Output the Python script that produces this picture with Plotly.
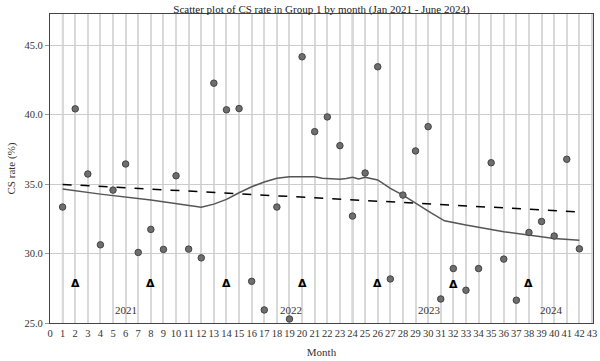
import plotly.graph_objects as go

# ---- data ----
months = list(range(1, 43))
cs_rate = [33.35, 40.42, 35.73, 30.63, 34.57, 36.45, 30.08, 31.74, 30.30, 35.60,
           30.32, 29.69, 42.27, 40.35, 40.44, 28.00, 25.94, 33.35, 25.29, 44.17,
           38.78, 39.84, 37.77, 32.70, 35.80, 43.45, 28.17, 34.21, 37.39, 39.14,
           26.73, 28.92, 27.36, 28.92, 36.54, 29.60, 26.64, 31.52, 32.31, 31.26,
           36.79, 30.34]

smooth_months = [1, 4, 8, 12, 13, 14, 15, 16, 17, 18, 19, 21, 21.6, 23, 23.5, 24,
                 24.5, 25, 26, 27, 28, 29, 30.2, 31.3, 33, 36, 38, 40, 42]
smooth_values = [34.65, 34.28, 33.85, 33.33, 33.56, 33.90, 34.38, 34.81, 35.15,
                 35.42, 35.53, 35.53, 35.42, 35.35, 35.40, 35.49, 35.37, 35.49,
                 35.30, 34.70, 34.21, 33.61, 32.94, 32.36, 32.05, 31.57, 31.33,
                 31.09, 30.95]

trend_months = [1, 42]
trend_values = [34.98, 33.00]

triangle_months = [2, 8, 14, 20, 26, 32, 38]
triangle_values = [27.84, 27.84, 27.84, 27.84, 27.84, 27.74, 27.84]

year_labels = ["2021", "2022", "2023", "2024"]
year_months = [6.0, 19.1, 30.1, 39.8]
year_values = [25.95, 25.95, 25.95, 25.95]

divider_months = [1, 12, 24, 36]
x_ticks = list(range(0, 44))
y_ticks = [25, 30, 35, 40, 45]

SERIF = "Liberation Serif, Times New Roman, serif"

fig = go.Figure()

fig.add_trace(go.Scatter(
    x=trend_months, y=trend_values, mode="lines",
    line=dict(color="black", width=1.5, dash="dash"),
    showlegend=False, hoverinfo="skip"))

fig.add_trace(go.Scatter(
    x=smooth_months, y=smooth_values, mode="lines",
    line=dict(color="#555555", width=1.5),
    showlegend=False, hoverinfo="skip"))

fig.add_trace(go.Scatter(
    x=months, y=cs_rate, mode="markers",
    marker=dict(size=6.5, color="#6e6e6e", line=dict(color="#444444", width=1)),
    showlegend=False))

for m in divider_months:
    fig.add_shape(type="line", xref="x", yref="paper", x0=m, x1=m, y0=0, y1=1,
                  line=dict(color="#3a3a3a", width=1.3), layer="below")

for m, v in zip(triangle_months, triangle_values):
    fig.add_annotation(x=m, y=v, text="<b>Δ</b>", showarrow=False,
                       font=dict(family="DejaVu Sans", size=11, color="black"))

for t, m, v in zip(year_labels, year_months, year_values):
    fig.add_annotation(x=m, y=v, text=t, showarrow=False,
                       font=dict(family=SERIF, size=11, color="#333333"))

fig.update_layout(
    width=600, height=361,
    margin=dict(l=50, r=3, t=14, b=38),
    paper_bgcolor="white", plot_bgcolor="white",
    title=dict(text="Scatter plot of CS rate in Group 1 by month (Jan 2021 - June 2024)",
               x=0.5, xref="paper", xanchor="center", y=0.985, yanchor="top",
               font=dict(family=SERIF, size=11, color="#222222")),
    font=dict(family=SERIF, size=10.5, color="#333333"),
    xaxis=dict(range=[0, 43.08], tickmode="array", tickvals=x_ticks,
               ticktext=[str(v) for v in x_ticks], tickangle=0,
               ticklabeloverflow="allow",
               showgrid=True, gridcolor="#d9d9d9", gridwidth=1.6,
               zeroline=False, showline=True, linecolor="#444444", linewidth=1.3,
               mirror=True, ticks="", tickfont=dict(family=SERIF, size=10.5, color="#333333"),
               title=dict(text="Month", font=dict(family=SERIF, size=11, color="#333333"),
                          standoff=10)),
    yaxis=dict(range=[25, 47.25], tickmode="array", tickvals=y_ticks,
               ticktext=[f"{v:.1f}" for v in y_ticks],
               showgrid=True, gridcolor="#cccccc", gridwidth=1.2,
               zeroline=False, showline=True, linecolor="#444444", linewidth=1.3,
               mirror=True, ticks="outside", ticklen=4, tickcolor="#999999",
               tickfont=dict(family=SERIF, size=10.5, color="#333333"),
               title=dict(text="CS rate (%)", font=dict(family=SERIF, size=11, color="#333333"),
                          standoff=6)),
)

fig.write_html("out.html")
